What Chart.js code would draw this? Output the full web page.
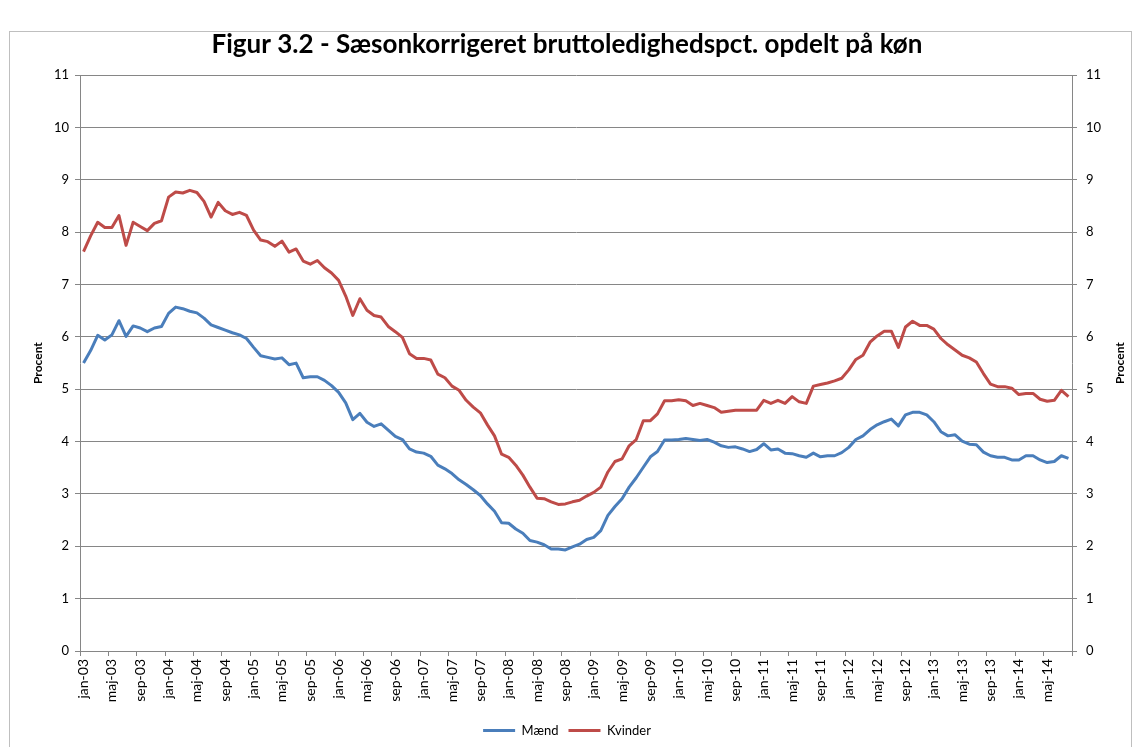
<!DOCTYPE html>
<html>
<head>
<meta charset="utf-8">
<script src="https://cdn.jsdelivr.net/npm/chart.js@4/dist/chart.umd.min.js"></script>
<style>
  html, body { margin: 0; padding: 0; background: #ffffff; }
  #wrap { position: relative; width: 1134px; height: 747px; overflow: hidden; }
  #frame { position: absolute; left: 9px; top: 31px; width: 1123px; height: 730px; border: 1px solid #bfbfbf; box-sizing: border-box; }
  canvas { position: absolute; left: 0; top: 0; }
</style>
</head>
<body>
<div id="wrap">
  <div id="frame"></div>
  <canvas id="c" width="1134" height="747"></canvas>
</div>
<script>
const titleText = 'Figur 3.2 - Sæsonkorrigeret bruttoledighedspct. opdelt på køn';
const axisTitle = 'Procent';
const monthNames = ['jan','feb','mar','apr','maj','jun','jul','aug','sep','okt','nov','dec'];
const years = ['03','04','05','06','07','08','09','10','11','12','13','14'];
const lastMonthIndex2014 = 7; // aug-14
const yTicks = [0,1,2,3,4,5,6,7,8,9,10,11];
const seriesNames = ['Mænd', 'Kvinder'];

const maend = [
  5.50,5.74,6.03,5.94,6.04,6.31,6.01,6.21,6.17,6.10,6.17,6.20,
  6.45,6.57,6.54,6.49,6.46,6.36,6.23,6.18,6.13,6.08,6.04,5.97,
  5.80,5.64,5.61,5.58,5.60,5.47,5.50,5.22,5.24,5.24,5.17,5.07,
  4.94,4.74,4.42,4.54,4.37,4.29,4.34,4.22,4.10,4.04,3.86,3.80,
  3.78,3.72,3.55,3.48,3.39,3.27,3.18,3.08,2.97,2.81,2.67,2.45,
  2.44,2.33,2.25,2.11,2.08,2.03,1.95,1.95,1.93,1.99,2.04,2.13,
  2.17,2.30,2.59,2.76,2.91,3.13,3.31,3.51,3.71,3.81,4.03,4.03,
  4.04,4.06,4.04,4.02,4.04,3.99,3.92,3.89,3.90,3.86,3.81,3.85,
  3.96,3.84,3.86,3.78,3.77,3.73,3.70,3.78,3.71,3.73,3.73,3.79,
  3.89,4.04,4.11,4.23,4.32,4.38,4.43,4.30,4.51,4.56,4.56,4.51,
  4.38,4.19,4.11,4.13,4.01,3.95,3.94,3.80,3.73,3.70,3.70,3.65,
  3.65,3.73,3.73,3.65,3.60,3.62,3.73,3.68
];
const kvinder = [
  7.63,7.93,8.19,8.09,8.09,8.32,7.75,8.19,8.11,8.03,8.17,8.22,
  8.67,8.77,8.75,8.80,8.76,8.59,8.29,8.57,8.41,8.34,8.38,8.32,
  8.04,7.85,7.82,7.73,7.83,7.62,7.68,7.45,7.39,7.46,7.32,7.22,
  7.08,6.78,6.41,6.73,6.51,6.41,6.38,6.20,6.10,5.99,5.68,5.59,
  5.59,5.56,5.29,5.22,5.06,4.98,4.79,4.66,4.55,4.32,4.11,3.76,
  3.70,3.55,3.36,3.13,2.92,2.91,2.85,2.80,2.81,2.85,2.88,2.96,
  3.03,3.13,3.42,3.62,3.67,3.92,4.04,4.40,4.40,4.53,4.78,4.78,
  4.80,4.78,4.69,4.73,4.69,4.65,4.56,4.58,4.60,4.60,4.60,4.60,
  4.79,4.73,4.79,4.73,4.86,4.76,4.73,5.06,5.09,5.12,5.16,5.21,
  5.37,5.57,5.65,5.90,6.02,6.11,6.11,5.80,6.19,6.30,6.22,6.22,
  6.15,5.97,5.85,5.75,5.65,5.60,5.52,5.30,5.10,5.05,5.05,5.02,
  4.90,4.92,4.92,4.81,4.77,4.79,4.98,4.86
];

const categories = [];
years.forEach((y, yi) => {
  monthNames.forEach((m, mi) => {
    if (yi === years.length - 1 && mi > lastMonthIndex2014) return;
    categories.push(m + '-' + y);
  });
});

const FONT = 'Lato, "Open Sans", sans-serif';
const GRID = '#868686';

const rightTitlePlugin = {
  id: 'rightTitle',
  afterDraw(chart) {
    const {ctx, chartArea} = chart;
    ctx.save();
    ctx.translate(1120, (chartArea.top + chartArea.bottom) / 2);
    ctx.rotate(-Math.PI / 2);
    ctx.font = 'bold 12px ' + FONT;
    ctx.fillStyle = '#000';
    ctx.textAlign = 'center';
    ctx.textBaseline = 'middle';
    ctx.fillText(axisTitle, 0, 0);
    ctx.restore();
  }
};

new Chart(document.getElementById('c'), {
  type: 'line',
  data: {
    labels: categories,
    datasets: [
      { label: seriesNames[0], data: maend, borderColor: '#4A7EBB', backgroundColor: '#4A7EBB',
        borderWidth: 3, pointRadius: 0, tension: 0, borderJoinStyle: 'round', yAxisID: 'y' },
      { label: seriesNames[1], data: kvinder, borderColor: '#BE4B48', backgroundColor: '#BE4B48',
        borderWidth: 3, pointRadius: 0, tension: 0, borderJoinStyle: 'round', yAxisID: 'y' }
    ]
  },
  options: {
    responsive: false,
    animation: false,
    layout: { padding: { top: 0, left: 0, right: 0, bottom: 0 } },
    plugins: {
      title: {
        display: true, text: titleText, color: '#000',
        font: { family: FONT, size: 26, weight: 'bold' },
        padding: { top: 29, bottom: 15 }
      },
      legend: {
        display: true, position: 'bottom',
        labels: {
          usePointStyle: true, pointStyle: 'line', pointStyleWidth: 32,
          color: '#000', font: { family: FONT, size: 13 }, padding: 10
        }
      },
      tooltip: { enabled: false }
    },
    scales: {
      x: {
        type: 'category',
        offset: true,
        grid: {
          offset: true, drawOnChartArea: false, drawTicks: true, tickLength: 5,
          tickColor: (c) => (c.type === 'scale' || c.index % 4 === 0) ? GRID : 'rgba(0,0,0,0)'
        },
        border: { color: GRID, width: 1 },
        ticks: {
          autoSkip: false, minRotation: 90, maxRotation: 90, padding: 3,
          color: '#000', font: { family: FONT, size: 14 },
          callback: (v, i) => (i % 4 === 0 ? categories[i] : '')
        },
        afterFit: (s) => { s.height = 63; }
      },
      y: {
        position: 'left', min: 0, max: 11,
        afterBuildTicks: (s) => { s.ticks = yTicks.map(v => ({ value: v })); },
        grid: { color: GRID, lineWidth: 1, drawTicks: true, tickLength: 5, tickColor: GRID },
        border: { color: GRID, width: 1 },
        ticks: { color: '#000', font: { family: FONT, size: 13 }, padding: 6 },
        title: { display: true, text: axisTitle, color: '#000', font: { family: FONT, size: 12, weight: 'bold' }, padding: { top: 31, bottom: 0 } },
        afterFit: (s) => { s.width = 80; }
      },
      y2: {
        position: 'right', min: 0, max: 11,
        afterBuildTicks: (s) => { s.ticks = yTicks.map(v => ({ value: v })); },
        grid: { drawOnChartArea: false, drawTicks: true, tickLength: 5, tickColor: GRID },
        border: { color: GRID, width: 1 },
        ticks: { color: '#000', font: { family: FONT, size: 13 }, padding: 9 },
        afterFit: (s) => { s.width = 62; }
      }
    }
  },
  plugins: [rightTitlePlugin]
});
</script>
</body>
</html>
